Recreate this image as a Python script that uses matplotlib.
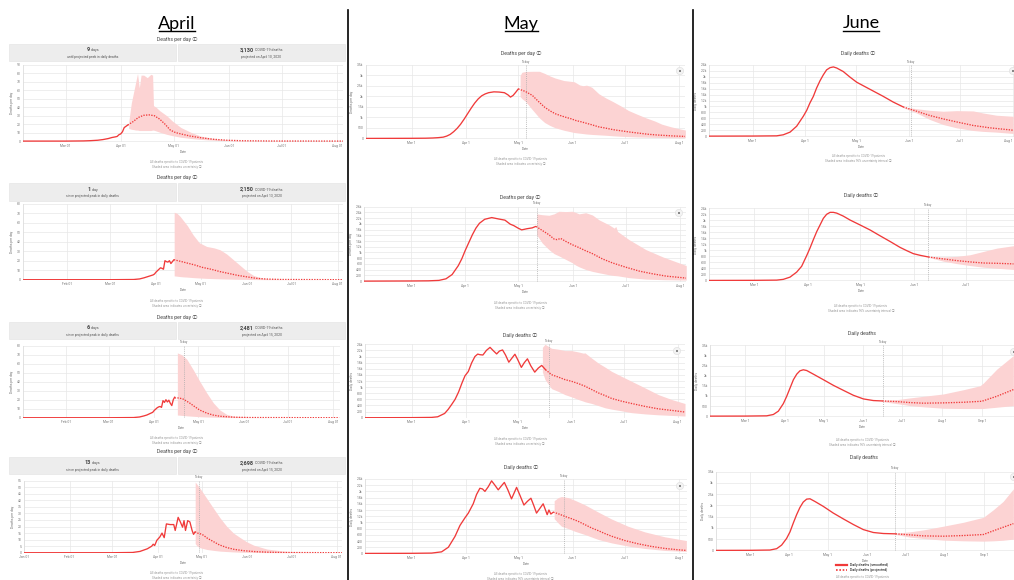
import matplotlib
matplotlib.use('Agg')
import matplotlib.pyplot as plt
from matplotlib.lines import Line2D
from matplotlib.patches import Rectangle, Circle
import matplotlib.transforms as mtrans
import numpy as np

# ---------------- data (x = day of year 2020, Jan 1 = 0) ----------------
# April column
a1_obs_day = [36, 60, 70, 74, 78, 81, 84, 86, 88, 89, 90, 91, 92, 93, 94, 95]
a1_obs_val = [0, 0, 0.2, 0.5, 1, 1.8, 3, 4.2, 5, 5.5, 7.5, 8.5, 11, 16, 17.5, 19]
a1_proj_day = [95, 98, 101, 104, 107, 110, 113, 116, 119, 122, 126, 130, 136, 143, 151, 160, 175, 217]
a1_proj_val = [19, 23, 28, 30.5, 31, 30, 26, 20, 13, 10, 8, 6, 4, 2.2, 1, 0.4, 0.1, 0]
a1_band_day = [95.5, 97, 98.5, 99.5, 100.5, 101.5, 102.5, 104, 106, 108, 109, 109.5, 111, 113, 117, 120, 125, 131, 136, 145, 155, 166, 217]
a1_band_hi = [22, 45, 60, 70, 80, 63, 78, 78, 75, 79, 78, 42, 40, 36, 30, 24, 16, 10, 6, 2.5, 0.8, 0.3, 0]
a1_band_lo = [15, 14, 13.5, 13, 13, 12.5, 12.5, 12.5, 12.5, 12.5, 13, 13, 12, 10.5, 8, 6.5, 4.5, 3, 2, 0.8, 0.2, 0.05, 0]

a2_obs_day = [2, 60, 76, 80, 83, 85, 87, 89, 90, 91, 92, 93, 94, 95, 96, 97, 98, 99, 100, 101, 102, 103]
a2_obs_val = [0, 0, 0.2, 0.8, 2, 3, 4, 5, 6, 8, 9.5, 11, 12.5, 12, 11, 20, 19, 18.5, 20, 17, 19, 21]
a2_proj_day = [103, 107, 112, 117, 122, 128, 134, 140, 146, 152, 158, 165, 175, 217]
a2_proj_val = [21, 19.5, 17.5, 15.5, 13, 11, 8.5, 6.5, 4.5, 3, 1.5, 0.7, 0.2, 0]
a2_band_day = [103.2, 105, 107, 109, 112, 116, 120, 125, 130, 134, 138.5, 143, 147.5, 152, 156.5, 161, 165, 177, 217]
a2_band_hi = [71, 70, 67, 63, 57, 47, 39, 35, 33.5, 31.5, 27, 21, 15, 9, 4.5, 2.2, 1, 0.3, 0]
a2_band_lo = [4, 3.7, 3.3, 3, 2.7, 2.2, 1.8, 1.4, 1.1, 0.9, 0.7, 0.5, 0.35, 0.25, 0.15, 0.1, 0.05, 0.02, 0]

a3_obs_day = [1.5, 60, 77, 81, 84, 86, 88, 90, 91, 92, 93, 94, 95, 96, 97, 98, 99, 100, 101, 102, 103, 104, 105]
a3_obs_val = [0, 0, 0.2, 0.8, 2, 3, 4.5, 6, 8, 9.5, 11, 12, 12.5, 11.5, 19, 17, 20, 17.5, 19.5, 16, 13.5, 20, 23]
a3_proj_day = [105, 107, 109, 111, 113, 115, 118, 122, 127, 131, 136, 145, 156, 217]
a3_proj_val = [22, 22, 21.5, 20.5, 18.5, 16.5, 13, 8.5, 5, 3, 1.6, 0.6, 0.2, 0]
a3_band_day = [106.8, 109.7, 113.2, 117.7, 122.2, 126.8, 131.3, 135.8, 140.4, 144.9, 156.3, 167.6, 217]
a3_band_hi = [72, 70, 65, 53, 40, 27.5, 16.5, 8.5, 3.7, 1.8, 0.5, 0.15, 0]
a3_band_lo = [3, 2.6, 2.1, 1.6, 1.1, 0.8, 0.6, 0.4, 0.3, 0.2, 0.1, 0.03, 0]

a4_obs_day = [0, 60, 74, 79, 84, 87, 88, 89, 90.5, 92.5, 94, 95.5, 97, 99.5, 102, 103, 105, 106.5, 108, 109, 110, 111.5, 113, 114.5, 115.5, 116.5]
a4_obs_val = [0, 0, 0.2, 1, 3, 5, 6.5, 5.5, 9.5, 12, 15, 11.5, 22, 21.5, 21.5, 17, 27, 23.5, 19.5, 24.5, 17, 24.5, 23.5, 17, 14, 16]
a4_proj_day = [116.5, 118, 120, 122, 125, 129, 133, 138, 143, 150, 158, 166, 177, 217]
a4_proj_val = [16, 15, 14.5, 13.5, 11, 8.5, 6, 4, 2.6, 1.5, 0.8, 0.4, 0.15, 0]
a4_band_day = [116.6, 118, 120, 124.5, 129, 133.6, 138.2, 142.7, 147.3, 151.8, 156.4, 165.5, 176.8, 188.2, 200, 217]
a4_band_hi = [54, 52, 49, 41.5, 34, 26.5, 20, 15, 11.5, 8.3, 5.8, 2.8, 1.3, 0.5, 0.2, 0]
a4_band_lo = [7, 5, 3.8, 2.5, 1.8, 1.2, 0.9, 0.6, 0.4, 0.3, 0.2, 0.1, 0.05, 0.02, 0, 0]

# May column
m1_obs_day = [34, 60, 68, 72, 75, 78, 80, 82, 84, 86, 88, 90, 92, 94, 96, 98, 100, 102, 104, 107, 110, 113, 115, 116.5, 118, 119.5, 121]
m1_obs_val = [0, 5, 10, 20, 35, 60, 110, 190, 320, 480, 680, 920, 1180, 1440, 1680, 1880, 2030, 2120, 2180, 2220, 2210, 2180, 2080, 1970, 2050, 2200, 2360]
m1_proj_day = [121, 125, 129, 132.5, 136, 139, 142, 145, 148, 151, 154, 157, 160, 163, 167, 171, 175, 180, 185, 190, 195, 200, 205, 210, 216.5]
m1_proj_val = [2360, 2240, 2050, 1760, 1490, 1320, 1180, 1090, 1010, 940, 850, 790, 720, 650, 550, 490, 420, 360, 300, 250, 200, 165, 140, 115, 95]
m1_band_day = [122, 123, 125, 129, 133, 136, 139, 142, 147, 153, 156, 158, 160, 163, 167, 171, 175, 180, 184, 189, 194, 199, 203, 208, 213, 216.5]
m1_band_hi = [3000, 3150, 3190, 3200, 3200, 3100, 2980, 2880, 2760, 2700, 2550, 2510, 2540, 2440, 2130, 1930, 1760, 1530, 1330, 1150, 980, 830, 680, 560, 460, 400]
m1_band_lo = [2000, 1900, 1770, 1370, 980, 760, 620, 510, 390, 280, 250, 230, 210, 190, 170, 150, 125, 100, 85, 70, 60, 50, 40, 35, 30, 28]

m2_obs_day = [33.5, 60, 70, 76, 80, 83.5, 87, 89, 91, 93, 95, 97, 99, 102, 106, 110, 113.5, 116.5, 118.5, 121, 123, 126, 129, 131]
m2_obs_val = [0, 5, 10, 25, 80, 230, 540, 780, 1080, 1350, 1620, 1850, 2020, 2160, 2220, 2170, 2130, 1990, 1940, 1850, 1790, 1830, 1860, 1910]
m2_proj_day = [131.2, 134.7, 138.5, 141.4, 143, 145.2, 148, 151.8, 155.6, 159, 163.2, 168.9, 174.6, 182.2, 189.8, 197.4, 205, 216.5]
m2_proj_val = [1910, 1770, 1620, 1470, 1450, 1490, 1390, 1270, 1170, 1070, 960, 775, 635, 485, 350, 255, 175, 105]
m2_band_day = [131.5, 134.7, 138.5, 141.4, 144.2, 148, 151.8, 153.7, 155.6, 159.4, 163.2, 167, 172.7, 175.6, 176.5, 177.5, 184.1, 193.6, 203.2, 216.5]
m2_band_hi = [2350, 2320, 2300, 2350, 2440, 2430, 2440, 2400, 2350, 2390, 2310, 2140, 1965, 1850, 1910, 1735, 1445, 1100, 845, 545]
m2_band_lo = [1620, 1330, 1100, 960, 880, 760, 640, 560, 500, 405, 340, 290, 220, 195, 190, 185, 120, 70, 50, 35]

m3_obs_day = [33, 60, 71.5, 75, 79, 81, 83, 85, 87, 89, 90.7, 92.6, 94.5, 96.4, 98, 99.3, 101, 103, 105.1, 107, 108.9, 110.5, 112.3, 114, 115.9, 117.7, 119.4, 121, 123.1, 124.8, 126.6, 128.5, 130.8, 132.8, 134.8, 137]
m3_obs_val = [0, 3, 10, 30, 140, 270, 430, 600, 840, 1140, 1370, 1510, 1790, 2000, 2080, 2060, 2050, 2200, 2300, 2190, 2085, 2180, 2215, 2050, 1815, 1950, 2075, 1900, 1645, 1800, 1925, 1700, 1490, 1620, 1710, 1570]
m3_proj_day = [137, 140.5, 144.3, 148.2, 152, 155.9, 159.7, 163.6, 167.4, 171.2, 175, 180.8, 186.5, 194.2, 201.9, 209.5, 217.2]
m3_proj_val = [1570, 1405, 1330, 1245, 1190, 1115, 1030, 920, 810, 725, 630, 540, 465, 370, 290, 240, 185]
m3_band_day = [135.2, 136.7, 140.5, 144.3, 148.2, 152, 155.9, 158.8, 159.7, 163.6, 167.4, 171.2, 175, 180.8, 186.5, 194.2, 201.9, 209.5, 217.2]
m3_band_hi = [2300, 2400, 2270, 2240, 2195, 2195, 2150, 2110, 2120, 1945, 1785, 1655, 1515, 1350, 1190, 975, 755, 595, 465]
m3_band_lo = [1500, 1250, 950, 860, 755, 680, 595, 540, 520, 465, 395, 325, 280, 225, 165, 125, 95, 75, 55]

m4_obs_day = [33.3, 60, 71.4, 77.1, 81, 84.8, 87.6, 90.5, 92.4, 95.2, 97.1, 99, 100.5, 101.9, 103.8, 105.7, 107.6, 109.5, 111.2, 113, 115, 117.1, 118.6, 120, 122.1, 124.2, 126.2, 128.2, 129.8, 131.4, 133.3, 135.2, 136.4, 137.5, 138.5, 139.6, 141]
m4_obs_val = [0, 3, 10, 50, 200, 550, 900, 1150, 1300, 1600, 1900, 2100, 2080, 2000, 2150, 2340, 2200, 2050, 2170, 2290, 2050, 1760, 1950, 2130, 1850, 1560, 1680, 1780, 1550, 1300, 1450, 1600, 1420, 1250, 1400, 1270, 1330]
m4_proj_day = [141, 143.8, 147.6, 151.4, 155.2, 159, 162.9, 166.7, 170.5, 174.3, 181.9, 189.5, 197.1, 204.8, 212.4, 217.1]
m4_proj_val = [1330, 1280, 1195, 1120, 1035, 930, 820, 735, 640, 555, 415, 310, 225, 160, 117, 96]
m4_band_day = [141.5, 143.8, 145.7, 149.5, 153.3, 159, 166.7, 174.3, 183.8, 193.3, 204.8, 217.1]
m4_band_hi = [1700, 1800, 1835, 1800, 1715, 1570, 1333, 1110, 875, 695, 535, 415]
m4_band_lo = [1120, 980, 875, 800, 715, 610, 450, 340, 235, 160, 95, 64]

# June column
j1_obs_day = [34.3, 60, 74.1, 78, 82, 85.9, 89.8, 91.8, 93.7, 95.7, 97.6, 99.6, 101.6, 103.5, 105.5, 107.5, 109.4, 113.3, 117.3, 121.2, 125.1, 131, 136.9, 142.7, 148.6]
j1_obs_val = [0, 3, 10, 45, 135, 335, 670, 870, 1120, 1340, 1620, 1865, 2070, 2235, 2310, 2335, 2300, 2180, 1990, 1820, 1700, 1520, 1340, 1150, 985]
j1_proj_day = [148.6, 156.5, 164.3, 172.2, 180, 189.8, 199.6, 213.3]
j1_proj_val = [985, 840, 695, 580, 480, 360, 280, 200]
j1_band_day = [148.6, 156.5, 164.3, 172.2, 180, 189.8, 195.7, 203.5, 213.3]
j1_band_hi = [985, 925, 870, 840, 860, 850, 780, 705, 670]
j1_band_lo = [960, 780, 560, 390, 280, 190, 160, 135, 90]

j2_obs_day = [33.9, 60, 72.9, 76.7, 80.6, 84.4, 87.3, 90.2, 92.1, 94, 96, 97.9, 99.8, 101.7, 103.7, 105.6, 107.5, 111.3, 115.2, 121, 126.7, 132.5, 138.3, 144, 147.9, 151.7, 155.6, 160.4]
j2_obs_val = [0, 3, 10, 35, 110, 275, 470, 825, 1075, 1350, 1625, 1845, 2065, 2200, 2265, 2265, 2240, 2140, 2010, 1845, 1680, 1485, 1295, 1100, 990, 890, 835, 780]
j2_proj_day = [160.4, 169, 176.7, 184.4, 192.1, 199.8, 209.4]
j2_proj_val = [780, 715, 660, 615, 580, 570, 550]
j2_band_day = [160.4, 169, 176.7, 184.4, 192.1, 199.8, 209.4]
j2_band_hi = [790, 780, 800, 855, 965, 1075, 1155]
j2_band_lo = [770, 640, 560, 495, 440, 405, 365]

j3_obs_day = [32.8, 60, 76.8, 82, 85.9, 89.8, 92.4, 95, 97.6, 100.2, 102.7, 105.3, 107.9, 113.1, 120.9, 128.7, 136.4, 144.2, 152, 159.7, 166.7]
j3_obs_val = [0, 3, 15, 80, 245, 620, 980, 1390, 1800, 2075, 2240, 2290, 2255, 2075, 1800, 1520, 1275, 1030, 850, 770, 750]
j3_proj_day = [166.7, 177.9, 188.2, 198.6, 214.1, 229.7, 244, 255.6, 268.5]
j3_proj_val = [750, 720, 670, 640, 655, 685, 735, 980, 1310]
j3_band_day = [166.7, 177.9, 188.2, 198.6, 214.1, 229.7, 242.6, 245.2, 255.6, 268.5]
j3_band_hi = [785, 815, 900, 980, 1095, 1305, 1500, 1635, 2320, 2990]
j3_band_lo = [720, 620, 520, 460, 390, 375, 375, 378, 440, 520]

j4_obs_day = [33.3, 60, 75.7, 81, 84.9, 88.8, 91.5, 94.1, 96.7, 99.3, 101.9, 104.6, 107.2, 111.1, 117.7, 125.5, 133.4, 141.3, 149.1, 157, 164.9, 174.6]
j4_obs_val = [0, 3, 15, 75, 235, 530, 825, 1220, 1590, 1910, 2150, 2280, 2295, 2175, 1955, 1660, 1400, 1150, 925, 795, 750, 735]
j4_proj_day = [174.6, 185.8, 196.3, 212, 227.8, 243.5, 254, 267.1]
j4_proj_val = [735, 690, 645, 630, 660, 705, 925, 1190]
j4_band_day = [174.6, 185.8, 196.3, 212, 227.8, 243.5, 251.4, 259, 267.1]
j4_band_hi = [765, 825, 910, 1075, 1250, 1470, 1810, 2175, 2735]
j4_band_lo = [705, 590, 530, 455, 425, 410, 425, 450, 500]

# tick labels
month_days = [0, 31, 60, 91, 121, 152, 182, 213, 244]
april_month_labels = ['Jan 01', 'Feb 01', 'Mar 01', 'Apr 01', 'May 01', 'Jun 01', 'Jul 01', 'Aug 01', 'Sep 01']
may_month_labels = ['Jan 1', 'Feb 1', 'Mar 1', 'Apr 1', 'May 1', 'Jun 1', 'Jul 1', 'Aug 1', 'Sep 1']

# ---------------- drawing ----------------
W, H = 1014, 580
fig = plt.figure(figsize=(W / 100, H / 100), dpi=100)
fig.patch.set_facecolor('white')

RED = '#f03a3a'
BAND = '#fcd3d3'
GRID = '#e8e8e8'
SMALL = ['Roboto', 'DejaVu Sans', 'Noto Sans CJK SC']
TICKC = '#777777'

ov = fig.add_axes([0, 0, 1, 1])
ov.set_xlim(0, W)
ov.set_ylim(H, 0)
ov.axis('off')
ov.set_zorder(10)
ov.patch.set_visible(False)


def kfmt(v):
    if v >= 1000:
        return f"{v / 1000:g}k"
    return f"{v:g}"


def panel(rect, xlim, ymax, ystep, tick_idx, tick_labels, obs, proj, band,
          ylabel, today=None, kstyle=True, last_right=False):
    l, t, r, b = rect
    ax = fig.add_axes([l / W, 1 - b / H, (r - l) / W, (b - t) / H])
    ax.patch.set_visible(False)
    ax.set_xlim(*xlim)
    ax.set_ylim(-ymax * 0.008, ymax)
    yt = np.arange(0, ymax + ystep / 2, ystep)
    ax.set_yticks(yt)
    ax.set_yticklabels([kfmt(v) if kstyle else f"{v:g}" for v in yt])
    xt = [month_days[i] for i in tick_idx]
    ax.set_xticks(xt)
    ax.set_xticklabels([tick_labels[i] for i in tick_idx])
    ax.tick_params(length=0, labelsize=2.4, labelcolor=TICKC, pad=1.5)
    for lab in ax.get_xticklabels() + ax.get_yticklabels():
        lab.set_family(SMALL)
    if last_right:
        ax.get_xticklabels()[-1].set_ha('right')
    ax.grid(True, color=GRID, lw=0.5)
    ax.set_axisbelow(True)
    for s in ax.spines.values():
        s.set_visible(False)
    ax.axvline(xlim[0], color='#dddddd', lw=0.6)
    ax.fill_between(band[0], band[1], band[2], color=BAND, lw=0, zorder=1)
    ax.plot(obs[0], obs[1], color=RED, lw=0.95, zorder=3, solid_capstyle='round',
            solid_joinstyle='round')
    ax.plot(proj[0], proj[1], color=RED, lw=0.95, ls=(0, (1, 1)), zorder=3)
    if today is not None:
        ax.axvline(today, color='#aaaaaa', lw=0.5, ls=(0, (1.5, 1.5)), zorder=2)
        tr = mtrans.blended_transform_factory(ax.transData, ax.transAxes)
        ax.text(today, 1.02, 'Today', transform=tr, ha='center', va='bottom',
                fontsize=2.2, color='#777', family=SMALL)
    ax.set_xlabel('Date', fontsize=2.4, color=TICKC, labelpad=1.5, family=SMALL)
    ax.set_ylabel(ylabel, fontsize=2.4, color=TICKC, labelpad=2, family=SMALL)
    return ax


def title(x, y, s):
    ov.text(x, y, s, ha='center', va='center', fontsize=3.7, color='#444', family=SMALL)


def legend(x, y, labels, ncol):
    h = [Line2D([0], [0], color=RED, lw=1.6),
         Line2D([0], [0], color=RED, lw=1.2, ls=(0, (1, 1)))]
    ov.legend(h, labels, loc='center', bbox_to_anchor=(x, y), bbox_transform=ov.transData,
              ncol=ncol, frameon=False, prop={'family': SMALL, 'size': 2.5},
              handlelength=3.0, handletextpad=0.8, columnspacing=1.6, labelspacing=0.3,
              borderpad=0)


def foot(x, y, lines):
    for i, s in enumerate(lines):
        ov.text(x, y + i * 4.6, s, ha='center', va='center', fontsize=2.2,
                color='#9a9a9a', family=SMALL)


def camera(x, y):
    ov.add_patch(Circle((x, y), 3.6, facecolor='#f3f3f3', edgecolor='#dddddd', lw=0.4))
    ov.add_patch(Rectangle((x - 1.3, y - 0.9), 2.6, 1.8, facecolor='#888888', lw=0))


renderer = fig.canvas.get_renderer()


def stat(xc, y, num, unit):
    t1 = ov.text(0, y, num, ha='left', va='baseline', fontsize=4.0, fontweight='bold',
                 color='#444', family=SMALL)
    t2 = ov.text(0, y, '\u00a0' + unit, ha='left', va='baseline', fontsize=2.6,
                 color='#555', family=SMALL)
    w1 = t1.get_window_extent(renderer=renderer).width
    w2 = t2.get_window_extent(renderer=renderer).width
    x0 = xc - (w1 + w2) / 2
    t1.set_x(x0)
    t2.set_x(x0 + w1)


def boxes(t, b, left_num, left_unit, left_sub, right_num, right_unit, right_sub):
    for (x0, x1, num, unit, sub) in [(9, 176, left_num, left_unit, left_sub),
                                       (178, 345, right_num, right_unit, right_sub)]:
        ov.add_patch(Rectangle((x0, t), x1 - x0, b - t, facecolor='#ededed',
                               edgecolor='#e2e2e2', lw=0.4))
        xc = (x0 + x1) / 2
        stat(xc, t + (b - t) * 0.43, num, unit)
        ov.text(xc, t + (b - t) * 0.74, sub, ha='center', va='center', fontsize=2.4,
                color='#555', family=SMALL)


# column headers and separators
for x, s, x0, x1 in [(177, 'April', 159, 195), (521, 'May', 505, 538), (861, 'June', 843, 879)]:
    ov.text(x, 28.5, s, ha='center', va='baseline', fontsize=13, color='black',
            family=['Lato', 'DejaVu Sans'])
    ov.plot([x0, x1], [31, 31], color='black', lw=1.0)
for x in [347.5, 692.5]:
    ov.plot([x, x], [10, 580], color='black', lw=1.2)

A_TICK_A1 = [2, 3, 4, 5, 6, 7]
A_TICK = [1, 2, 3, 4, 5, 6, 7]
A_TICK4 = [0, 1, 2, 3, 4, 5, 6, 7]
M_TICK = [2, 3, 4, 5, 6, 7]
J_TICK2 = [2, 3, 4, 5, 6]
J_TICK3 = [2, 3, 4, 5, 6, 7, 8]
dpd = 'Deaths per day'
dd = 'Daily deaths'
foot_a = ['All deaths specific to COVID-19 patients', 'Shaded area indicates uncertainty \u24d8']
foot_j = ['All deaths specific to COVID-19 patients', 'Shaded area indicates 95% uncertainty interval \u24d8']
leg_a = ['Deaths per day', 'Deaths per day (projected)']
leg_d = ['Daily deaths', 'Daily deaths (projected)']

# ---- April ----
title(177, 39, 'Deaths per day \u24d8')
boxes(44, 61, '9', 'days', 'until projected peak in daily deaths',
      '3,130', 'COVID-19 deaths', 'projected on April 10, 2020')
panel((23, 65, 343, 141.7), (35.9, 216.4), 90, 10, A_TICK_A1, april_month_labels,
      (a1_obs_day, a1_obs_val), (a1_proj_day, a1_proj_val),
      (a1_band_day, a1_band_lo, a1_band_hi), dpd, kstyle=False)
legend(177, 155, leg_a, 2)
foot(177, 162, foot_a)

title(177, 178, 'Deaths per day \u24d8')
boxes(183, 201, '1', 'day', 'since projected peak in daily deaths',
      '2,150', 'COVID-19 deaths', 'projected on April 13, 2020')
panel((23, 203.7, 343, 280.3), (1.65, 216.6), 80, 10, A_TICK, april_month_labels,
      (a2_obs_day, a2_obs_val), (a2_proj_day, a2_proj_val),
      (a2_band_day, a2_band_lo, a2_band_hi), dpd, kstyle=False)
legend(177, 294, leg_a, 2)
foot(177, 301, foot_a)

title(177, 317, 'Deaths per day \u24d8')
boxes(322, 339, '6', 'days', 'since projected peak in daily deaths',
      '2,481', 'COVID-19 deaths', 'projected on April 15, 2020')
panel((22.7, 345.7, 340, 418.3), (1.5, 217.5), 80, 10, A_TICK, april_month_labels,
      (a3_obs_day, a3_obs_val), (a3_proj_day, a3_proj_val),
      (a3_band_day, a3_band_lo, a3_band_hi), dpd, today=111.3, kstyle=False)
legend(177, 431, leg_a, 2)
foot(177, 438, foot_a)

title(177, 452, 'Deaths per day \u24d8')
boxes(457, 474, '13', 'days', 'since projected peak in daily deaths',
      '2,698', 'COVID-19 deaths', 'projected on April 15, 2020')
panel((24, 480.7, 341.7, 553.3), (0, 216.4), 55, 5, A_TICK4, april_month_labels,
      (a4_obs_day, a4_obs_val), (a4_proj_day, a4_proj_val),
      (a4_band_day, a4_band_lo, a4_band_hi), dpd, today=119, kstyle=False)
legend(177, 567, leg_a, 2)
foot(177, 573, foot_a)

# ---- May ----
title(521, 54, 'Deaths per day \u24d8')
panel((365.7, 65, 685, 139), (33.7, 216.3), 3500, 500, M_TICK, may_month_labels,
      (m1_obs_day, m1_obs_val), (m1_proj_day, m1_proj_val),
      (m1_band_day, m1_band_lo, m1_band_hi), dpd, today=125.4)
camera(680, 71)
legend(521, 153, leg_a, 2)
foot(521, 159, foot_a)

title(520, 197, 'Deaths per day \u24d8')
panel((364.3, 206.7, 685.7, 281.7), (33.6, 216.2), 2600, 200, M_TICK, may_month_labels,
      (m2_obs_day, m2_obs_val), (m2_proj_day, m2_proj_val),
      (m2_band_day, m2_band_lo, m2_band_hi), dpd, today=131.9)
camera(679, 213)
legend(520, 296, leg_a, 2)
foot(520, 303, foot_a)

title(520, 335, 'Daily deaths \u24d8')
panel((365, 344.3, 685, 418.3), (33.2, 217.2), 2400, 200, M_TICK, may_month_labels,
      (m3_obs_day, m3_obs_val), (m3_proj_day, m3_proj_val),
      (m3_band_day, m3_band_lo, m3_band_hi), dd, today=139)
camera(677, 351)
legend(520, 432, leg_d, 2)
foot(520, 439, foot_a)

title(521, 467, 'Daily deaths \u24d8')
panel((365, 479, 686.7, 554), (33.3, 217.3), 2400, 200, M_TICK, may_month_labels,
      (m4_obs_day, m4_obs_val), (m4_proj_day, m4_proj_val),
      (m4_band_day, m4_band_lo, m4_band_hi), dd, today=147.3)
camera(680, 486)
legend(520, 568, leg_d, 2)
foot(520, 574, foot_j)

# ---- June ----
title(858, 53, 'Daily deaths \u24d8')
panel((709, 65, 1014, 136.7), (34.3, 213.8), 2400, 200, M_TICK, may_month_labels,
      (j1_obs_day, j1_obs_val), (j1_proj_day, j1_proj_val),
      (j1_band_day, j1_band_lo, j1_band_hi), dd, today=153.2, last_right=True)
camera(1013, 71)
legend(858, 150, leg_d, 2)
foot(858, 156, foot_j)

title(861, 196, 'Daily deaths \u24d8')
panel((709, 208.3, 1014, 281), (33.9, 209.7), 2400, 200, J_TICK2, may_month_labels,
      (j2_obs_day, j2_obs_val), (j2_proj_day, j2_proj_val),
      (j2_band_day, j2_band_lo, j2_band_hi), dd, today=160)
legend(855, 297, ['Daily deaths (reported)', 'Daily deaths (projected)'], 1)
foot(861, 306, foot_j)

title(862, 334, 'Daily deaths')
panel((710, 345.3, 1014, 416.7), (32.8, 269), 3500, 500, J_TICK3, may_month_labels,
      (j3_obs_day, j3_obs_val), (j3_proj_day, j3_proj_val),
      (j3_band_day, j3_band_lo, j3_band_hi), dd, today=167.3)
camera(1014, 352)
legend(860, 432, ['Daily deaths (smoothed)', 'Daily deaths (projected)'], 1)
foot(862, 440, foot_j)

title(864, 458, 'Daily deaths')
panel((716, 471.7, 1014, 551), (33.3, 267.6), 3500, 500, J_TICK3, may_month_labels,
      (j4_obs_day, j4_obs_val), (j4_proj_day, j4_proj_val),
      (j4_band_day, j4_band_lo, j4_band_hi), dd, today=174)
camera(1014, 477)
legend(862, 567.5, ['Daily deaths (smoothed)', 'Daily deaths (projected)'], 1)
foot(862, 577, foot_j[:1])

fig.savefig('out.png', dpi=100)
